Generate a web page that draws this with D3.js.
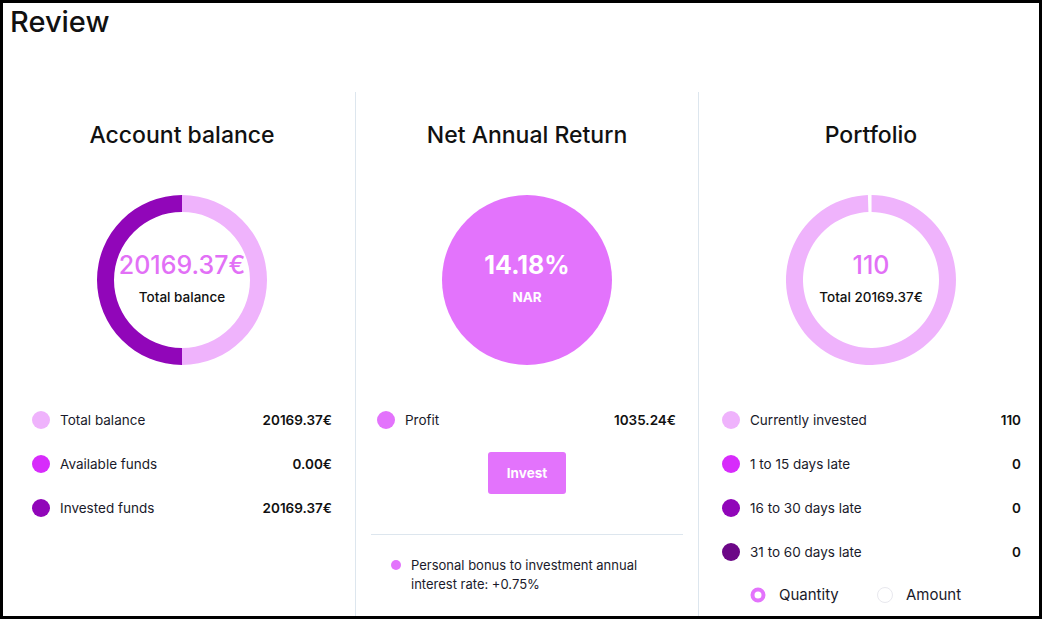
<!DOCTYPE html>
<html>
<head>
<meta charset="utf-8">
<script src="https://cdn.jsdelivr.net/npm/d3@7"></script>
<style>
  html, body { margin: 0; padding: 0; background: #fff; }
  svg { display: block; font-family: Inter, "Noto Sans", sans-serif; }
</style>
</head>
<body>
<svg id="chart" width="1042" height="619"></svg>
<script>
// account balance
const balanceLabels = ["Total balance", "Available funds", "Invested funds"];
const balanceValues = [20169.37, 0.00, 20169.37];
const totalBalance = 20169.37;

// net annual return
const narValue = 14.18;
const profitValue = 1035.24;
const bonusRate = 0.75;

// portfolio
const portfolioLabels = ["Currently invested", "1 to 15 days late", "16 to 30 days late", "31 to 60 days late"];
const portfolioValues = [110, 0, 0, 0];

const balanceColors = ["#efb3fc", "#d72cfb", "#9106b9"];
const portfolioColors = ["#efb3fc", "#d72cfb", "#9106b9", "#6c0787"];
const accent = "#e373fc";

const svg = d3.select("#chart");
const W = 1042, H = 619;

// frame
svg.append("rect").attr("x", 1.5).attr("y", 1.5).attr("width", W - 3).attr("height", H - 3)
  .attr("fill", "#fff").attr("stroke", "#000").attr("stroke-width", 3);

svg.append("text").attr("x", 10).attr("y", 32)
  .style("font-size", "29px").style("font-weight", 500).attr("fill", "#111").text("Review");

// column dividers
[355.5, 698.5].forEach(x => {
  svg.append("line").attr("x1", x).attr("x2", x).attr("y1", 92).attr("y2", 616)
    .attr("stroke", "#dde6ee").attr("stroke-width", 1);
});

const cols = [182, 527, 871];
const titles = ["Account balance", "Net Annual Return", "Portfolio"];
titles.forEach((t, i) => {
  svg.append("text").attr("x", cols[i]).attr("y", 143).attr("text-anchor", "middle")
    .style("font-size", "23px").style("font-weight", 500).attr("fill", "#111").text(t);
});

const fmtEur = v => d3.format(".2f")(v) + "€";
const cy = 280;
const arc = d3.arc().innerRadius(68).outerRadius(85);

// donut 1
const pie1 = d3.pie().sort(null).value(d => d)(balanceValues);
const g1 = svg.append("g").attr("transform", `translate(${cols[0]},${cy})`);
g1.selectAll("path").data(pie1).enter().append("path")
  .attr("d", arc).attr("fill", (d, i) => balanceColors[i]);
g1.append("text").attr("y", -13).attr("text-anchor", "middle").attr("dominant-baseline", "middle")
  .style("font-size", "25px").style("font-weight", 500).attr("fill", "#e270f6").text(fmtEur(totalBalance));
g1.append("text").attr("y", 22).attr("text-anchor", "middle")
  .style("font-size", "13.5px").style("font-weight", 500).attr("fill", "#111").text("Total balance");

// NAR circle
const g2 = svg.append("g").attr("transform", `translate(${cols[1]},${cy})`);
g2.append("circle").attr("r", 85).attr("fill", accent);
g2.append("text").attr("y", -13).attr("text-anchor", "middle").attr("dominant-baseline", "middle")
  .style("font-size", "25px").style("font-weight", 700).attr("fill", "#fff").text(narValue.toFixed(2) + "%");
g2.append("text").attr("y", 22).attr("text-anchor", "middle")
  .style("font-size", "13.5px").style("font-weight", 700).attr("fill", "#fff").text("NAR");

// donut 3
const pie3 = d3.pie().sort(null).padAngle(0.01).value(d => d)(portfolioValues);
const g3 = svg.append("g").attr("transform", `translate(${cols[2]},${cy})`);
g3.selectAll("path").data(pie3).enter().append("path")
  .attr("d", arc).attr("fill", (d, i) => portfolioColors[i]);
g3.append("text").attr("y", -13).attr("text-anchor", "middle").attr("dominant-baseline", "middle")
  .style("font-size", "25px").style("font-weight", 500).attr("fill", "#e270f6").text(d3.sum(portfolioValues));
g3.append("text").attr("y", 22).attr("text-anchor", "middle")
  .style("font-size", "13.5px").style("font-weight", 500).attr("fill", "#111").text("Total " + fmtEur(totalBalance));

// legends
function legend(x0, x1, labels, values, colors, fmt) {
  const y = d3.scalePoint().domain(labels).range([420, 420 + 44 * (labels.length - 1)]);
  const rows = svg.append("g").selectAll("g").data(labels).enter().append("g")
    .attr("transform", d => `translate(0,${y(d)})`);
  rows.append("circle").attr("cx", x0).attr("r", 9).attr("fill", (d, i) => colors[i]);
  rows.append("text").attr("x", x0 + 19).attr("dy", "0.35em")
    .style("font-size", "13.5px").attr("fill", "#1a1a2a").text(d => d);
  rows.append("text").attr("x", x1).attr("dy", "0.35em").attr("text-anchor", "end")
    .style("font-size", "13.5px").style("font-weight", 600).attr("fill", "#111")
    .text((d, i) => fmt(values[i]));
}
legend(41, 332, balanceLabels, balanceValues, balanceColors, fmtEur);
legend(386, 676, ["Profit"], [profitValue], [accent], fmtEur);
legend(731, 1021, portfolioLabels, portfolioValues, portfolioColors, v => v);

// invest button
svg.append("rect").attr("x", 488).attr("y", 452).attr("width", 78).attr("height", 42)
  .attr("rx", 3).attr("fill", accent);
svg.append("text").attr("x", 527).attr("y", 473).attr("dy", "0.35em").attr("text-anchor", "middle")
  .style("font-size", "13.5px").style("font-weight", 700).attr("fill", "#fff").text("Invest");

svg.append("line").attr("x1", 371).attr("x2", 683).attr("y1", 534.5).attr("y2", 534.5)
  .attr("stroke", "#dde6ee");

svg.append("circle").attr("cx", 396).attr("cy", 565).attr("r", 5).attr("fill", accent);
const bonus = svg.append("text").style("font-size", "13px").attr("fill", "#1a1a2a");
bonus.append("tspan").attr("x", 411).attr("y", 570).text("Personal bonus to investment annual");
bonus.append("tspan").attr("x", 411).attr("y", 589).text("interest rate: +" + bonusRate.toFixed(2) + "%");

// radio toggles
svg.append("circle").attr("cx", 758).attr("cy", 595).attr("r", 5.5).attr("fill", "#fff")
  .attr("stroke", accent).attr("stroke-width", 4);
svg.append("text").attr("x", 779).attr("y", 595).attr("dy", "0.35em")
  .style("font-size", "15px").attr("fill", "#1a1a2a").text("Quantity");
svg.append("circle").attr("cx", 885).attr("cy", 595).attr("r", 7.5).attr("fill", "#fff")
  .attr("stroke", "#e8e8ee").attr("stroke-width", 1);
svg.append("text").attr("x", 906).attr("y", 595).attr("dy", "0.35em")
  .style("font-size", "15px").attr("fill", "#1a1a2a").text("Amount");
</script>
</body>
</html>
